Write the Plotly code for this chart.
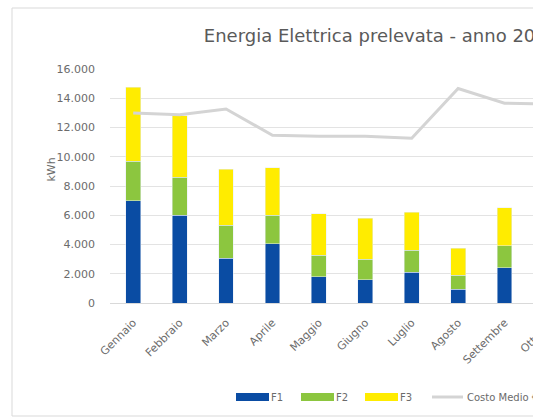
import plotly.graph_objects as go

mesi = ["Gennaio", "Febbraio", "Marzo", "Aprile", "Maggio", "Giugno",
        "Luglio", "Agosto", "Settembre", "Ottobre", "Novembre", "Dicembre"]
f1 = [7000, 6000, 3050, 4050, 1800, 1600, 2100, 950, 2400, 2800, 4500, 5500]
f2 = [2700, 2600, 2250, 1950, 1450, 1400, 1500, 950, 1500, 1700, 2200, 2400]
f3 = [5050, 4200, 3850, 3250, 2850, 2800, 2600, 1850, 2600, 3100, 4000, 4500]
costo_medio = [0.195, 0.193, 0.199, 0.172, 0.171, 0.171, 0.169, 0.220, 0.205, 0.204, 0.201, 0.198]
y_ticks = [0, 2000, 4000, 6000, 8000, 10000, 12000, 14000, 16000]

names = ["F1", "F2", "F3", "Costo Medio €/kWh"]
colors = ["#0a4ca3", "#8cc63f", "#ffec00", "#d4d4d4"]

W, H = 760, 418
L, T, B = 110, 69, 115
PW = 557
R = W - L - PW
PH = H - T - B

FONT = "DejaVu Sans"
GREY = "#6b6b6b"

fig = go.Figure()
for vals, nm, col in zip([f1, f2, f3], names[:3], colors[:3]):
    fig.add_trace(go.Bar(x=mesi, y=vals, name=nm, marker_color=col, showlegend=False))
fig.add_trace(go.Scatter(x=mesi, y=costo_medio, name=names[3], mode="lines",
                         line=dict(color=colors[3], width=3), yaxis="y2", showlegend=False))

def px_x(p):
    return (p - L) / PW

def px_y(p):
    return (T + PH - p) / PH

# custom legend (wide swatches, as in the original)
legend_x = [236, 301, 365, 432]
legend_y = 397
shapes = [dict(type="rect", xref="paper", yref="paper", x0=px_x(12), x1=px_x(W - 8),
               y0=px_y(416), y1=px_y(8), line=dict(color="#d9d9d9", width=1), layer="below")]
annotations = [dict(text="kWh", textangle=-90, x=px_x(42), y=px_y(170), xref="paper", yref="paper",
                    showarrow=False, font=dict(size=11, color=GREY))]
for i, (nm, col) in enumerate(zip(names, colors)):
    x0 = legend_x[i]
    if i < 3:
        shapes.append(dict(type="rect", xref="paper", yref="paper", x0=px_x(x0), x1=px_x(x0 + 33),
                           y0=px_y(legend_y + 4), y1=px_y(legend_y - 4),
                           fillcolor=col, line=dict(width=0)))
    else:
        shapes.append(dict(type="line", xref="paper", yref="paper", x0=px_x(x0), x1=px_x(x0 + 31),
                           y0=px_y(legend_y), y1=px_y(legend_y), line=dict(color=col, width=3)))
    annotations.append(dict(text=nm, x=px_x(x0 + 33), y=px_y(legend_y), xref="paper", yref="paper",
                            xanchor="left", yanchor="middle", showarrow=False,
                            font=dict(size=10, color=GREY)))

fig.update_layout(
    width=W, height=H,
    margin=dict(l=L, r=R, t=T, b=B),
    barmode="stack", bargap=0.68,
    separators=",.",
    paper_bgcolor="white", plot_bgcolor="white",
    font=dict(family=FONT, color=GREY, size=10),
    title=dict(text="Energia Elettrica prelevata - anno 2019", x=381 / W, xanchor="center",
               y=1 - 36 / H, yanchor="middle", font=dict(size=18, color="#5a5a5a", family=FONT)),
    xaxis=dict(tickangle=-45, showgrid=False, showline=True, linecolor="#d9d9d9",
               ticks="", tickfont=dict(size=11, color=GREY), ticklabelstandoff=8),
    yaxis=dict(range=[0, 16000], tickvals=y_ticks, tickformat=",d", showgrid=True,
               gridcolor="#e3e3e3", gridwidth=1, zeroline=False, showline=False,
               ticks="", tickfont=dict(size=11, color=GREY), ticklabelstandoff=14),
    yaxis2=dict(overlaying="y", side="right", range=[0, 0.24], showgrid=False,
                tickformat=".2f", ticks="", tickfont=dict(size=11, color=GREY)),
    showlegend=False,
    annotations=annotations,
    shapes=shapes,
)

fig.write_html("out.html")
